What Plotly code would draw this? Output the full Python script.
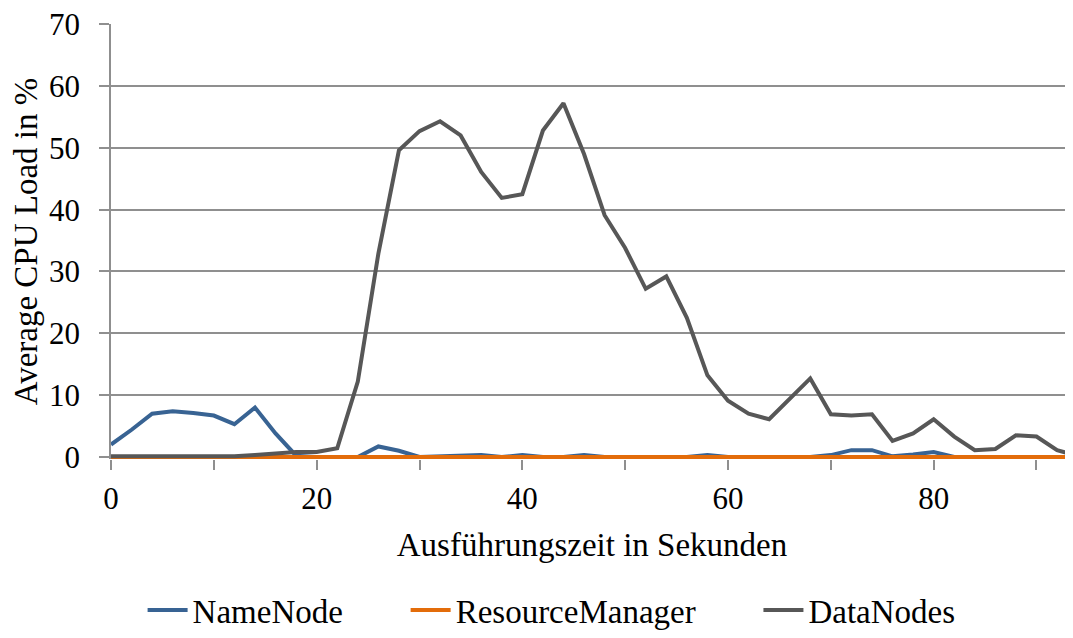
import plotly.graph_objects as go

# Ausführungszeit in Sekunden (Messpunkte alle 2 s)
seconds = [0, 2, 4, 6, 8, 10, 12, 14, 16, 18, 20, 22, 24, 26, 28, 30,
           32, 34, 36, 38, 40, 42, 44, 46, 48, 50, 52, 54, 56, 58, 60, 62,
           64, 66, 68, 70, 72, 74, 76, 78, 80, 82, 84, 86, 88, 90, 92, 94]

namenode = [2.0, 4.4, 7.0, 7.4, 7.1, 6.7, 5.3, 8.0, 3.8, 0.2, 0.0, 0.0,
            0.0, 1.7, 1.0, 0.0, 0.1, 0.3, 0.3, 0.0, 0.3, 0.0, 0.0, 0.3,
            0.0, 0.0, 0.0, 0.0, 0.0, 0.3, 0.0, 0.0, 0.0, 0.0, 0.0, 0.3,
            1.1, 1.1, 0.1, 0.4, 0.8, 0.0, 0.0, 0.0, 0.0, 0.0, 0.0, 0.0]

resourcemanager = [0.0, 0.0, 0.0, 0.0, 0.0, 0.0, 0.0, 0.0, 0.0, 0.0, 0.0, 0.0,
                   0.0, 0.0, 0.0, 0.0, 0.0, 0.0, 0.0, 0.0, 0.0, 0.0, 0.0, 0.0,
                   0.0, 0.0, 0.0, 0.0, 0.0, 0.0, 0.0, 0.0, 0.0, 0.0, 0.0, 0.0,
                   0.0, 0.0, 0.0, 0.0, 0.0, 0.0, 0.0, 0.0, 0.0, 0.0, 0.0, 0.0]

datanodes = [0.1, 0.1, 0.1, 0.1, 0.1, 0.1, 0.1, 0.3, 0.6, 0.8, 0.8, 1.4,
             12.2, 32.9, 49.6, 52.7, 54.3, 52.0, 46.1, 41.9, 42.5, 52.8, 57.2, 49.0,
             39.1, 33.8, 27.2, 29.2, 22.5, 13.2, 9.1, 7.0, 6.1, 9.5, 12.7, 6.9,
             6.7, 6.9, 2.6, 3.8, 6.1, 3.3, 1.1, 1.3, 3.5, 3.3, 1.1, 0.2]

x_tickvals = [0, 10, 20, 30, 40, 50, 60, 70, 80, 90]
x_ticktext = ["0", "", "20", "", "40", "", "60", "", "80", ""]
y_tickvals = [0, 10, 20, 30, 40, 50, 60, 70]

SERIES = [
    ("NameNode", namenode, "#386393"),
    ("ResourceManager", resourcemanager, "#e36c0a"),
    ("DataNodes", datanodes, "#575757"),
]

GRID = "#8f8f8f"
FONT = "Liberation Serif"
GAP = "\u00a0" * 7  # wider spacing between legend entries

fig = go.Figure()
for i, (name, values, color) in enumerate(SERIES):
    fig.add_trace(go.Scatter(
        x=seconds,
        y=values,
        mode="lines",
        name=name + (GAP if i < len(SERIES) - 1 else ""),
        line=dict(color=color, width=4),
    ))

# the page body adds an 8px margin, so the figure is 8px smaller than the window
fig.update_layout(
    width=1065,
    height=630,
    margin=dict(l=103, r=0, t=16, b=179, autoexpand=False),
    paper_bgcolor="white",
    plot_bgcolor="white",
    font=dict(family=FONT, size=33, color="black"),
    showlegend=True,
    legend=dict(
        orientation="h",
        x=0.458,
        xanchor="center",
        y=-0.4115,
        yanchor="bottom",
        font=dict(size=33),
        itemwidth=40,
    ),
    xaxis=dict(
        range=[0, 93.55],
        tickvals=x_tickvals,
        ticktext=x_ticktext,
        ticks="outside",
        ticklen=10,
        tickwidth=1.5,
        tickcolor=GRID,
        tickfont=dict(size=31),
        ticklabelstandoff=2,
        ticklabeloverflow="allow",
        showgrid=False,
        zeroline=False,
        showline=False,
        title=dict(text="Ausführungszeit in Sekunden", standoff=17,
                   font=dict(size=33)),
        automargin=False,
    ),
    # second x axis only to draw the inner half of the crossing tick marks
    xaxis2=dict(
        overlaying="x",
        anchor="y",
        side="bottom",
        range=[0, 93.55],
        tickvals=x_tickvals,
        ticks="inside",
        ticklen=10,
        tickwidth=1.5,
        tickcolor=GRID,
        showticklabels=False,
        showgrid=False,
        zeroline=False,
        showline=False,
    ),
    yaxis=dict(
        range=[-0.33, 70.03],
        tickvals=y_tickvals,
        ticks="outside",
        ticklen=10,
        tickwidth=1.5,
        tickcolor=GRID,
        tickfont=dict(size=31),
        ticklabelstandoff=13,
        ticklabeloverflow="allow",
        showgrid=True,
        gridcolor=GRID,
        gridwidth=1.5,
        zeroline=False,
        showline=True,
        linecolor=GRID,
        linewidth=1.5,
        title=dict(text="Average CPU Load in %", standoff=4,
                   font=dict(size=33)),
        automargin=False,
    ),
)

fig.write_html("out.html")
